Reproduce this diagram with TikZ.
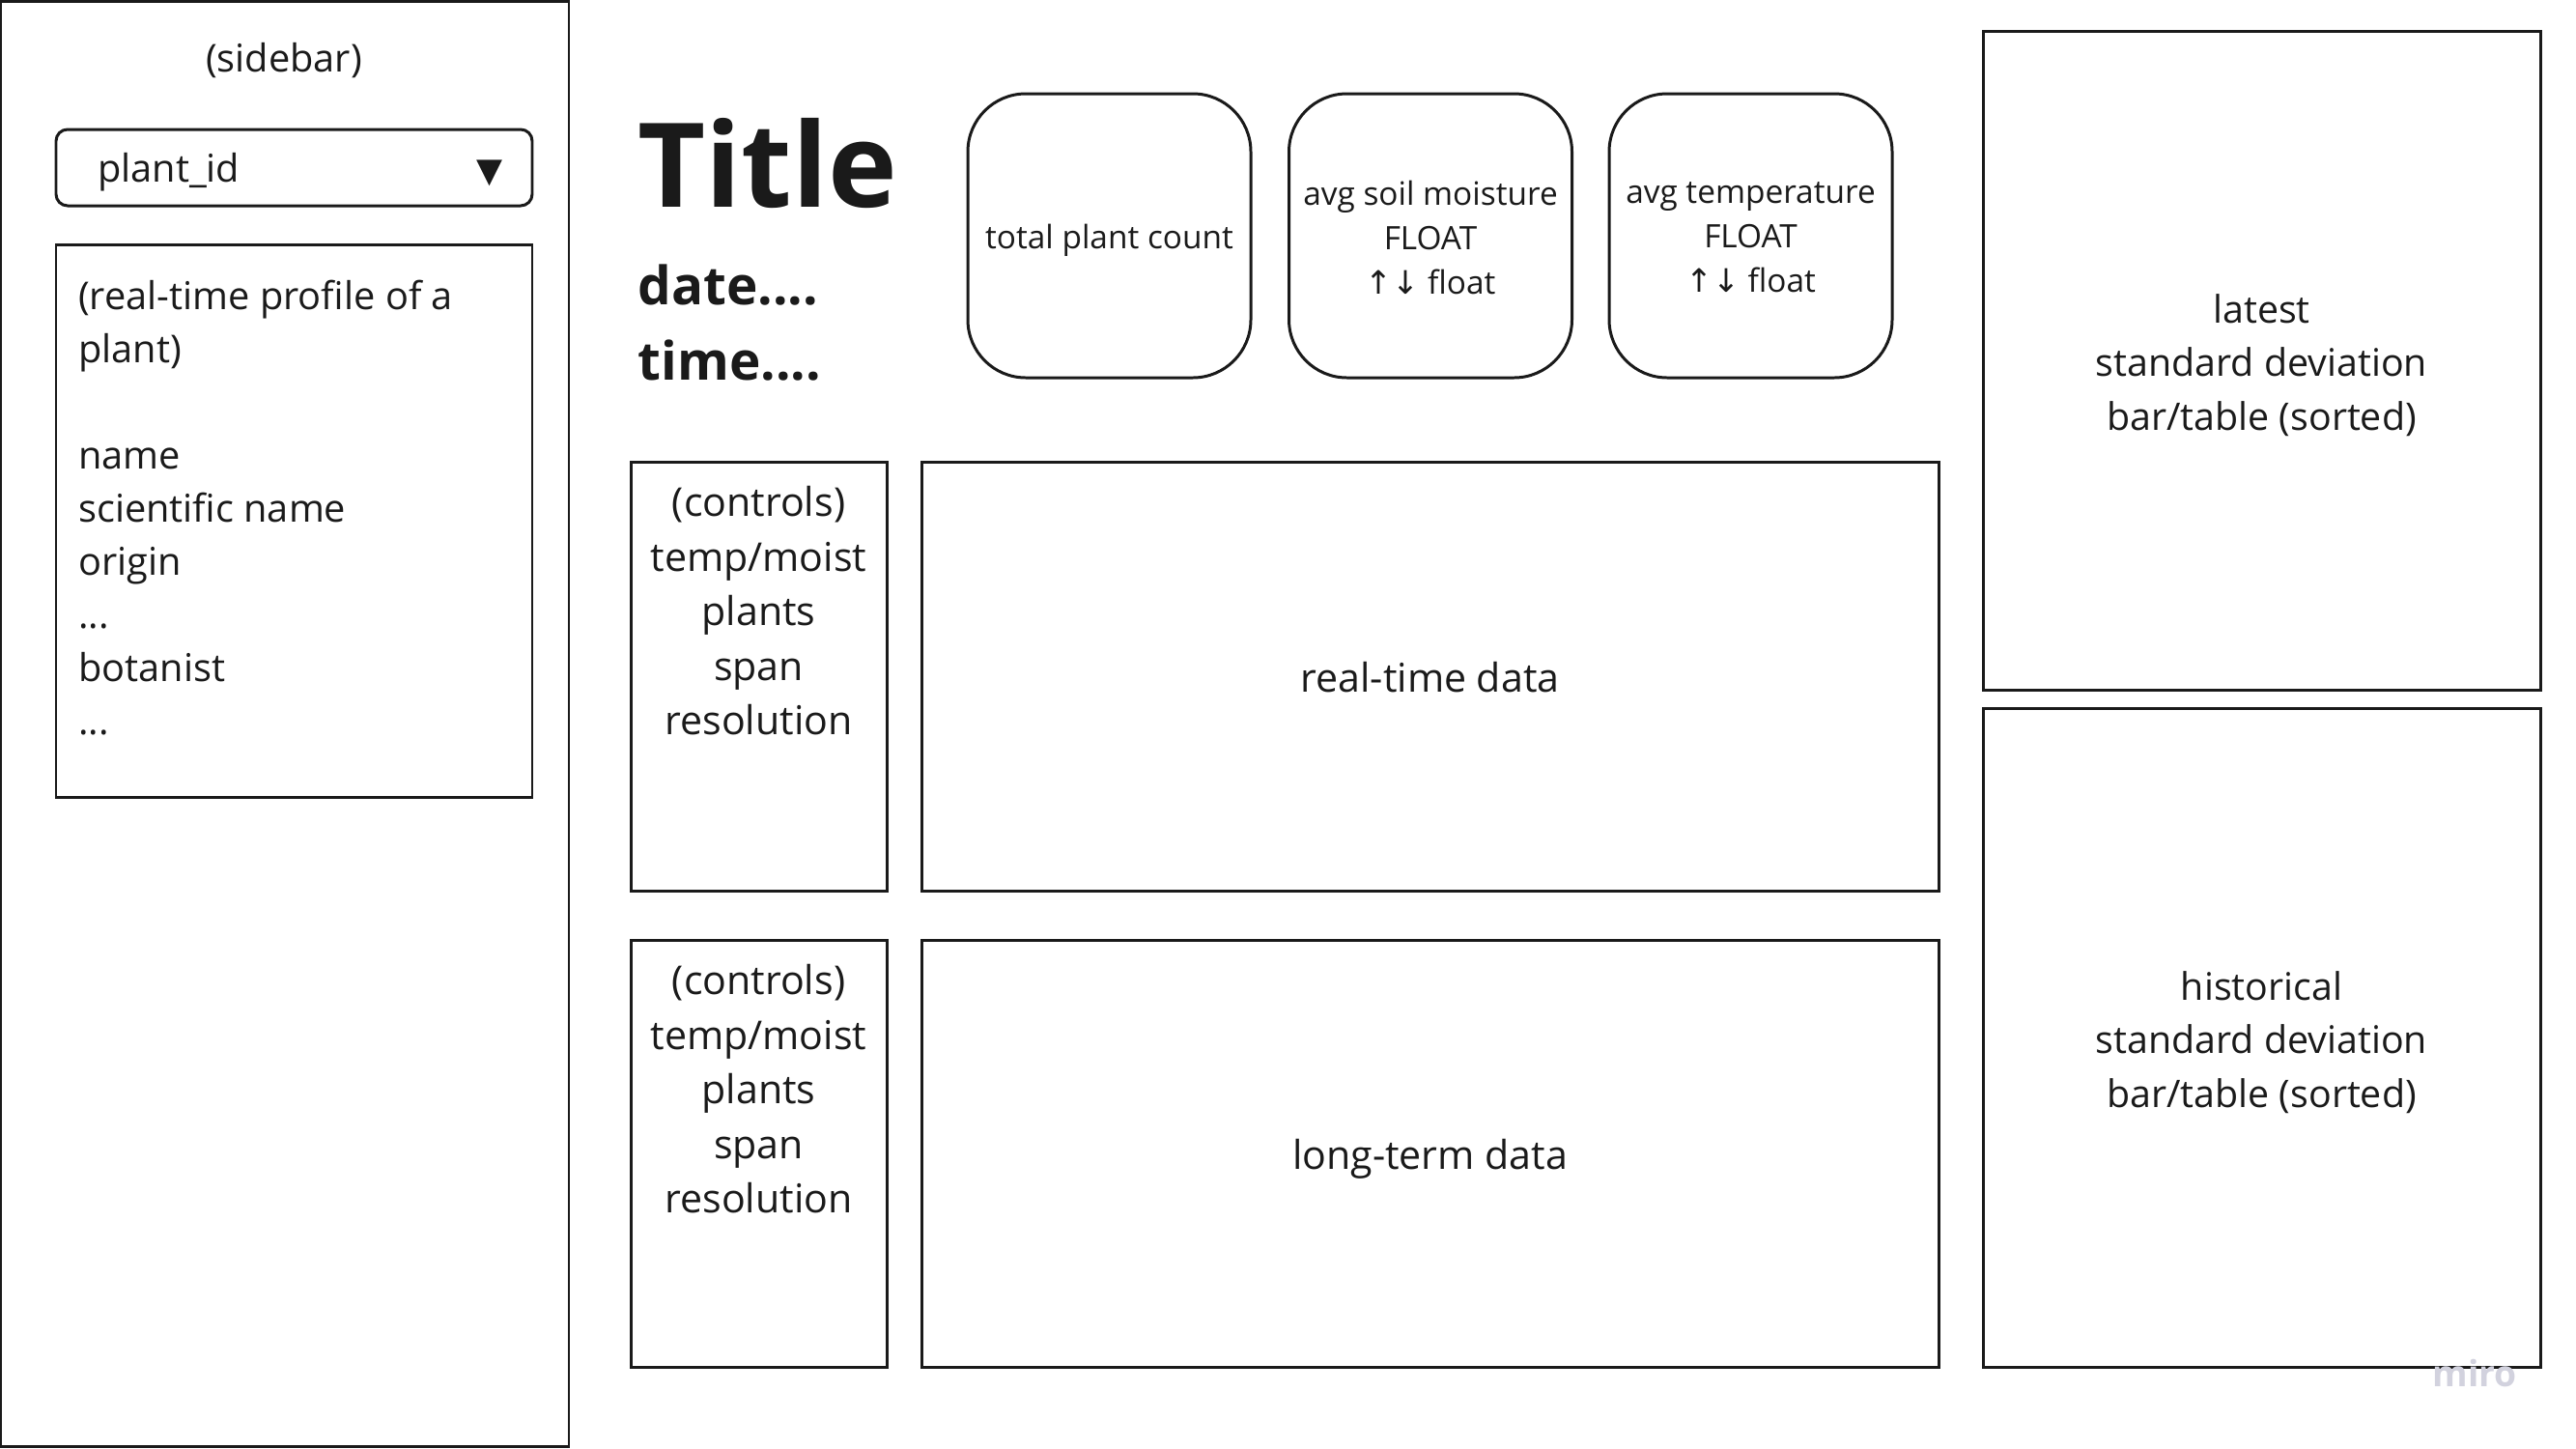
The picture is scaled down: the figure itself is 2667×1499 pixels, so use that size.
\documentclass[tikz,border=0pt]{standalone}
\usepackage{fontspec}
\setmainfont{Open Sans}
\newfontfamily\dejavu{DejaVu Sans}
\usepackage{tikz}
\usepackage{xcolor}
\definecolor{ink}{HTML}{1A1A1A}
\definecolor{watermark}{HTML}{D2D2DE}
\tikzset{
    panel-box/.style = {draw=ink, line width=0.85pt, rectangle, inner sep=0pt},
    kpi-box/.style = {panel-box, rounded corners=6mm, minimum width=29.3mm, minimum height=29.4mm},
    chart-box/.style = {panel-box, minimum width=57.7mm, minimum height=68.2mm},
    box-text/.style = {text=ink, inner sep=0pt, align=center, font=\fontsize{11.7}{16.1}\selectfont},
    kpi-text/.style = {box-text, font=\fontsize{9.5}{13.1}\selectfont},
    chart-text/.style = {box-text, font=\fontsize{11.2}{15.7}\selectfont},
    side-text/.style = {text=ink, inner sep=0pt, font=\fontsize{11.3}{15.65}\selectfont},
    head-text/.style = {text=ink, inner sep=0pt, anchor=base west, font=\bfseries\fontsize{15.6}{19}\selectfont},
}

\begin{document}
\begin{tikzpicture}[x=0.1mm, y=-0.1mm]
\useasboundingbox (0,0) rectangle (2667,1499);
% sidebar
\node[panel-box, minimum width=58.8mm, minimum height=149.6mm] (sidebar) at (295,749) {};
\node[side-text] (sidebar-title) at (294,63) {(sidebar)};
\node[panel-box, rounded corners=1.2mm, minimum width=49.3mm, minimum height=7.9mm] (plant-select) at (304.5,173.5) {};
\node[side-text, anchor=west] (plant-id) at ([xshift=4.4mm, yshift=-0.5mm]plant-select.west) {plant\_id};
\node[side-text, font=\dejavu\fontsize{10}{12}\selectfont] (plant-arrow) at (507,179) {▼};
\node[panel-box, minimum width=49.3mm, minimum height=57.2mm] (profile) at (304.5,539) {};
\node[side-text, anchor=north west, align=left] (profile-text) at ([xshift=2.4mm, yshift=-3.8mm]profile.north west) {(real-time profile of a\\ plant)\\[15.65pt] name\\ scientific name\\ origin\\ ...\\ botanist\\ ...};

% header
\node[head-text, font=\bfseries\fontsize{34.5}{40}\selectfont] (title) at (660,214) {Title};
\node[head-text] (date) at (660,315) {date....};
\node[head-text] (time) at (660,393) {time....};

% kpi cards
\node[kpi-box] (plant-count) at (1148.5,244) {};
\node[kpi-text] at ([yshift=-0.5mm]plant-count.center) {total plant count};
\node[kpi-box] (avg-moisture) at (1481,244) {};
\node[kpi-text] at ([yshift=-0.2mm]avg-moisture.center) {avg soil moisture\\ FLOAT\\ {\dejavu ↑↓} float};
\node[kpi-box] (avg-temp) at (1812.5,244) {};
\node[kpi-text] at ([yshift=-0.2mm]avg-temp.center) {avg temperature\\ FLOAT\\ {\dejavu ↑↓} float};

% real-time row
\node[panel-box, minimum width=26.5mm, minimum height=44.4mm] (rt-controls) at (785.5,700) {};
\node[box-text, anchor=north] (rt-controls-text) at ([yshift=-2.6mm]rt-controls.north) {(controls)\\ temp/moist\\ plants\\ span\\ resolution};
\node[panel-box, minimum width=105.3mm, minimum height=44.4mm] (rt-data) at (1480.5,700) {};
\node[box-text] (rt-data-text) at ([yshift=-0.1mm]rt-data.center) {real-time data};

% long-term row
\node[panel-box, minimum width=26.5mm, minimum height=44.2mm] (lt-controls) at (785.5,1194) {};
\node[box-text, anchor=north] (lt-controls-text) at ([yshift=-2.6mm]lt-controls.north) {(controls)\\ temp/moist\\ plants\\ span\\ resolution};
\node[panel-box, minimum width=105.3mm, minimum height=44.2mm] (lt-data) at (1480.5,1194) {};
\node[box-text] (lt-data-text) at ([yshift=-0.6mm]lt-data.center) {long-term data};

% deviation panels
\node[chart-box] (latest-sd) at (2341.5,373) {};
\node[chart-text] (latest-sd-text) at ([yshift=-0.5mm]latest-sd.center) {latest\\ standard deviation\\ bar/table (sorted)};
\node[chart-box] (hist-sd) at (2341.5,1074) {};
\node[chart-text] (hist-sd-text) at ([yshift=-0.5mm]hist-sd.center) {historical\\ standard deviation\\ bar/table (sorted)};

\node[text=watermark, font=\bfseries\fontsize{10.6}{12}\selectfont] (miro-mark) at (2562,1422) {miro};
\end{tikzpicture}
\end{document}
